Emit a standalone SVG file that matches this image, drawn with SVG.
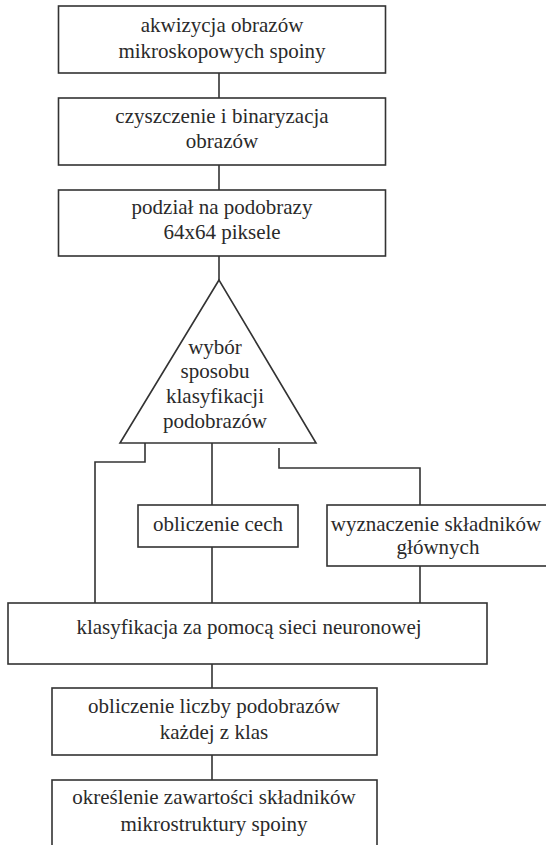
<svg xmlns="http://www.w3.org/2000/svg" width="546" height="845" viewBox="0 0 546 845">
<style>
.b{fill:#fff;stroke:#333;stroke-width:1.6}
.c{fill:none;stroke:#333;stroke-width:1.6}
text{font-family:"Liberation Serif","Times New Roman",serif;font-size:21px;fill:#2a2a2a;text-anchor:middle}
</style>
<rect width="546" height="845" fill="#fff"/>
<g id="connectors">
<path class="c" d="M219,73V98"/>
<path class="c" d="M219,165V190"/>
<path class="c" d="M219,256V281"/>
<path class="c" d="M145,443V462H95V603"/>
<path class="c" d="M212,443V505"/>
<path class="c" d="M279,448V468H420V505"/>
<path class="c" d="M212,547V603"/>
<path class="c" d="M420,566V603"/>
<path class="c" d="M212,664V688"/>
<path class="c" d="M212,755V780"/>
</g>
<g id="n1"><rect class="b" x="58.5" y="6" width="327" height="67"/><text x="222" y="32">akwizycja obrazów</text><text x="222" y="58">mikroskopowych spoiny</text></g>
<g id="n2"><rect class="b" x="58.5" y="98" width="327" height="67"/><text x="222" y="123">czyszczenie i binaryzacja</text><text x="222" y="148">obrazów</text></g>
<g id="n3"><rect class="b" x="58.5" y="190" width="327" height="66"/><text x="222" y="214">podział na podobrazy</text><text x="222" y="239">64x64 piksele</text></g>
<g id="n4"><polygon class="b" points="219,280 120,443 316,443"/><text x="215" y="354">wybór</text><text x="215" y="378">sposobu</text><text x="215" y="403">klasyfikacji</text><text x="215" y="428">podobrazów</text></g>
<g id="n5"><rect class="b" x="138" y="505" width="160" height="42"/><text x="218" y="531">obliczenie cech</text></g>
<g id="n6"><rect class="b" x="327" y="505" width="230" height="61"/><text x="436" y="531">wyznaczenie składników</text><text x="438" y="554">głównych</text></g>
<g id="n7"><rect class="b" x="8" y="603" width="479" height="61"/><text x="249" y="634">klasyfikacja za pomocą sieci neuronowej</text></g>
<g id="n8"><rect class="b" x="52" y="688" width="325" height="67"/><text x="214" y="713">obliczenie liczby podobrazów</text><text x="214" y="739">każdej z klas</text></g>
<g id="n9"><rect class="b" x="52" y="780" width="325" height="75"/><text x="214" y="804">określenie zawartości składników</text><text x="214" y="831">mikrostruktury spoiny</text></g>
</svg>
